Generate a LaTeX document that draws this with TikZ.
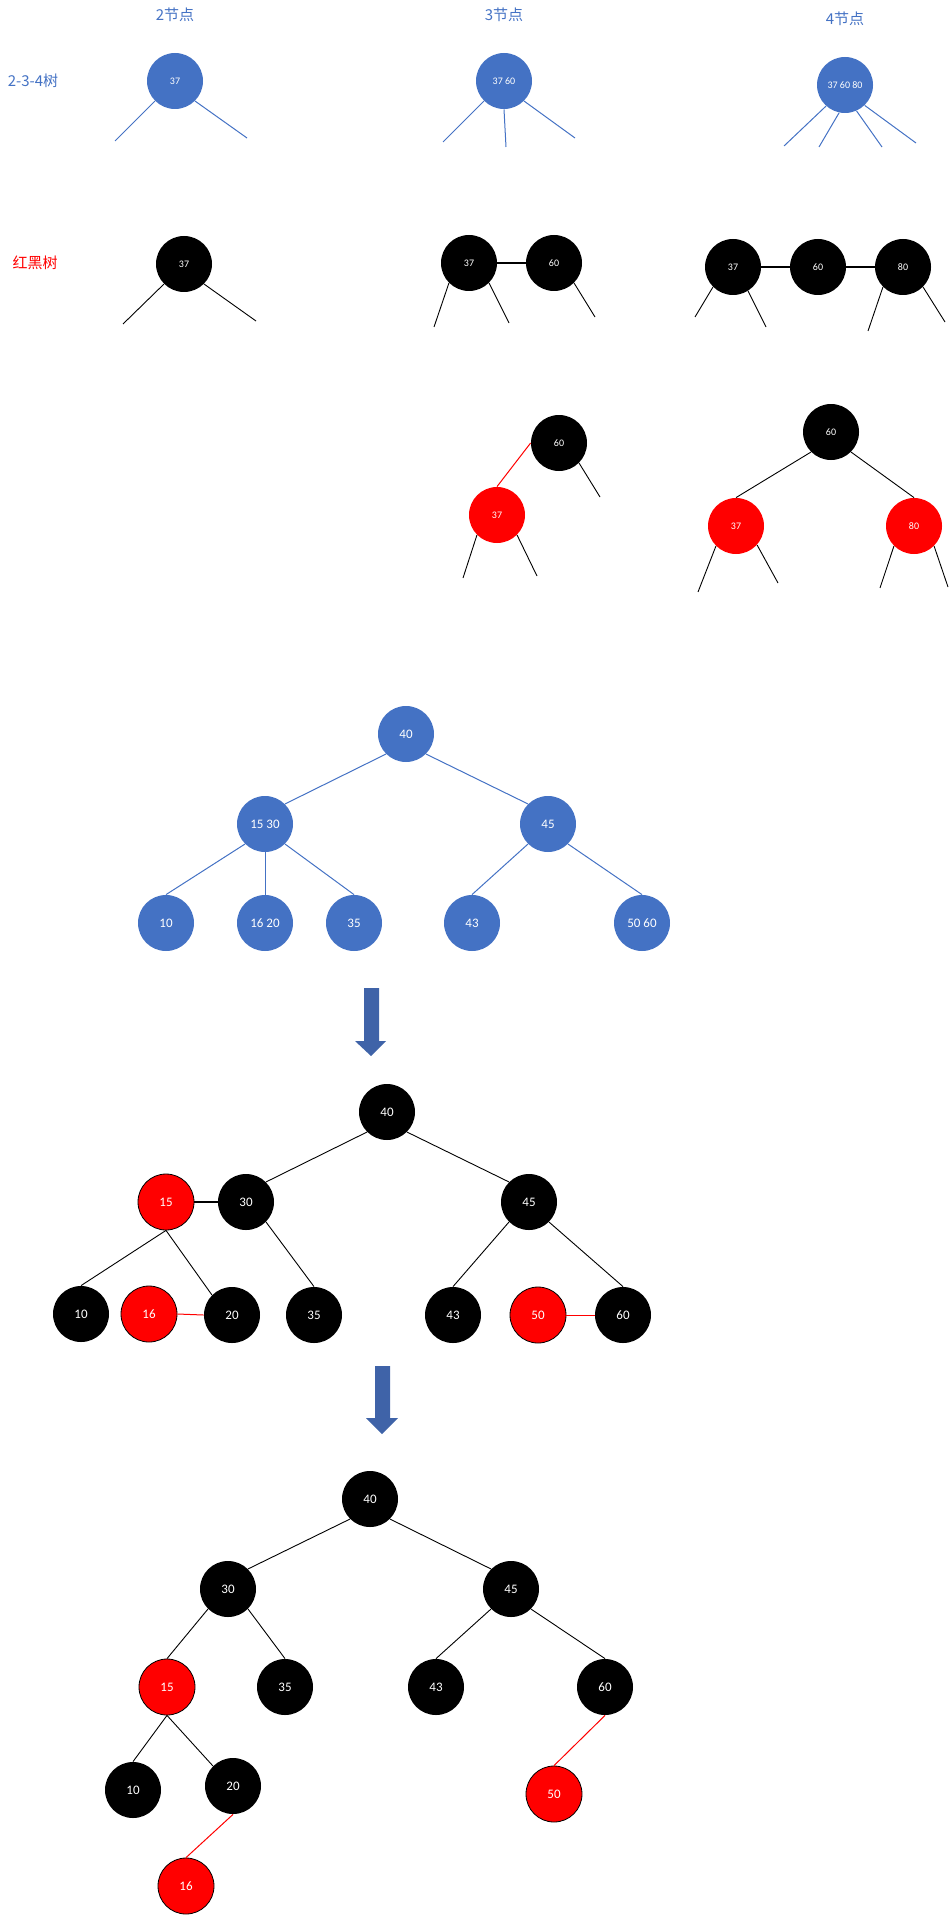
\documentclass[tikz,border=0pt]{standalone}
\usepackage{fontspec}
\setmainfont{Carlito}
\newfontfamily\cjk{Noto Sans CJK SC}
\definecolor{nblue}{RGB}{68,114,196}
\definecolor{arrowblue}{RGB}{63,99,168}
\tikzset{
  nd/.style={circle, minimum size=28pt, inner sep=0pt, text=white, font=\fontsize{5}{6}\selectfont},
  big/.style={font=\fontsize{6.5}{8}\selectfont},
  bnode/.style={nd, fill=nblue},
  knode/.style={nd, fill=black},
  rnode/.style={nd, fill=red},
  rnodeo/.style={nd, fill=red, draw=black, line width=0.4pt},
  eb/.style={draw=nblue, line width=0.5pt},
  ek/.style={draw=black, line width=0.45pt},
  ekk/.style={draw=black, line width=0.8pt},
  er/.style={draw=red, line width=0.5pt},
  lblue/.style={font=\cjk\fontsize{7.5}{9}\selectfont, text=nblue},
  lred/.style={font=\cjk\fontsize{7.5}{9}\selectfont, text=red},
  bigarrow/.style={fill=arrowblue}
}
\begin{document}
\begin{tikzpicture}[x=0.5pt, y=-0.5pt]
\useasboundingbox (0,0) rectangle (949,1915);

% ---------- labels ----------
\node[lblue] (h2) at (175,15) {2节点};
\node[lblue] (h3) at (504,15) {3节点};
\node[lblue] (h4) at (845,19) {4节点};
\node[lblue] (l234) at (33,81) {2-3-4树};
\node[lred] (lrb) at (35,263) {红黑树};

% ---------- 2-3-4 nodes (top row) ----------
\node[bnode] (b1) at (175,81) {37};
\node[bnode] (b2) at (504,81) {37 60};
\node[bnode] (b3) at (845,85) {37 60 80};
\draw[eb] (b1.225) -- (115,141);
\draw[eb] (b1.315) -- (247,138);
\draw[eb] (b2.225) -- (443,142);
\draw[eb] (b2.south) -- (506,147);
\draw[eb] (b2.315) -- (575,138);
\draw[eb] (b3.228) -- (784,146);
\draw[eb] (b3.258) -- (819,147);
\draw[eb] (b3.294) -- (882,147);
\draw[eb] (b3.314) -- (916,143);

% ---------- red-black row 2 ----------
\node[knode] (k1) at (184,264) {37};
\draw[ek] (k1.225) -- (123,324);
\draw[ek] (k1.315) -- (256,321);

\node[knode] (k2a) at (469,263) {37};
\node[knode] (k2b) at (554,263) {60};
\draw[ekk] (k2a.east) -- (k2b.west);
\draw[ek] (k2a.225) -- (434,327);
\draw[ek] (k2a.315) -- (509,323);
\draw[ek] (k2b.315) -- (595,317);

\node[knode] (k3a) at (733,267) {37};
\node[knode] (k3b) at (818,267) {60};
\node[knode] (k3c) at (903,267) {80};
\draw[ekk] (k3a.east) -- (k3b.west);
\draw[ekk] (k3b.east) -- (k3c.west);
\draw[ek] (k3a.225) -- (695,317);
\draw[ek] (k3a.302) -- (766,327);
\draw[ek] (k3c.225) -- (868,331);
\draw[ek] (k3c.315) -- (945,322);

% ---------- red-black row 3 ----------
\node[knode] (k4) at (559,443) {60};
\node[rnode] (r4) at (497,515) {37};
\draw[er] (k4.west) -- (r4.north);
\draw[ek] (k4.315) -- (600,497);
\draw[ek] (r4.225) -- (463,578);
\draw[ek] (r4.315) -- (537,576);

\node[knode] (k5) at (831,432) {60};
\node[rnode] (r5a) at (736,526) {37};
\node[rnode] (r5b) at (914,526) {80};
\draw[ek] (k5.225) -- (r5a.north);
\draw[ek] (k5.315) -- (r5b.north);
\draw[ek] (r5a.225) -- (698,592);
\draw[ek] (r5a.318) -- (778,583);
\draw[ek] (r5b.225) -- (880,588);
\draw[ek] (r5b.315) -- (948,587);

% ---------- 2-3-4 tree ----------
\node[bnode, big] (t40) at (406,734) {40};
\node[bnode, big] (t1530) at (265,824) {15 30};
\node[bnode, big] (t45) at (548,824) {45};
\node[bnode, big] (t10) at (166,923) {10};
\node[bnode, big] (t1620) at (265,923) {16 20};
\node[bnode, big] (t35) at (354,923) {35};
\node[bnode, big] (t43) at (472,923) {43};
\node[bnode, big] (t5060) at (642,923) {50 60};
\draw[eb] (t40.225) -- (t1530.45);
\draw[eb] (t40.315) -- (t45.135);
\draw[eb] (t1530.225) -- (t10.north);
\draw[eb] (t1530.south) -- (t1620.north);
\draw[eb] (t1530.315) -- (t35.north);
\draw[eb] (t45.225) -- (t43.north);
\draw[eb] (t45.315) -- (t5060.north);

% ---------- arrow 1 ----------
\fill[bigarrow] (364,988) -- (379,988) -- (379,1041) -- (386,1041) -- (371,1056) -- (355,1041) -- (364,1041) -- cycle;

% ---------- middle red-black tree ----------
\node[knode, big] (m40) at (387,1112) {40};
\node[rnodeo, big] (m15) at (166,1202) {15};
\node[knode, big] (m30) at (246,1202) {30};
\node[knode, big] (m45) at (529,1202) {45};
\node[knode, big] (m10) at (81,1314) {10};
\node[rnodeo, big] (m16) at (149,1314) {16};
\node[knode, big] (m20) at (232,1315) {20};
\node[knode, big] (m35) at (314,1315) {35};
\node[knode, big] (m43) at (453,1315) {43};
\node[rnodeo, big] (m50) at (538,1315) {50};
\node[knode, big] (m60) at (623,1315) {60};
\draw[ek] (m40.225) -- (m30.45);
\draw[ek] (m40.315) -- (m45.135);
\draw[ekk] (m15.east) -- (m30.west);
\draw[ek] (m15.south) -- (m10.north);
\draw[ek] (m15.south) -- (m20.135);
\draw[ek] (m30.315) -- (m35.north);
\draw[ek] (m45.225) -- (m43.north);
\draw[ek] (m45.315) -- (m60.north);
\draw[er] (m16.east) -- (m20.west);
\draw[er] (m50.east) -- (m60.west);

% ---------- arrow 2 ----------
\fill[bigarrow] (375,1366) -- (390,1366) -- (390,1418) -- (398,1418) -- (382,1434) -- (366,1418) -- (375,1418) -- cycle;

% ---------- bottom red-black tree ----------
\node[knode, big] (n40) at (370,1499) {40};
\node[knode, big] (n30) at (228,1589) {30};
\node[knode, big] (n45) at (511,1589) {45};
\node[rnodeo, big] (n15) at (167,1687) {15};
\node[knode, big] (n35) at (285,1687) {35};
\node[knode, big] (n43) at (436,1687) {43};
\node[knode, big] (n60) at (605,1687) {60};
\node[knode, big] (n10) at (133,1790) {10};
\node[knode, big] (n20) at (233,1786) {20};
\node[rnodeo, big] (n50) at (554,1794) {50};
\node[rnodeo, big] (n16) at (186,1886) {16};
\draw[ek] (n40.225) -- (n30.45);
\draw[ek] (n40.315) -- (n45.135);
\draw[ek] (n30.225) -- (n15.north);
\draw[ek] (n30.315) -- (n35.north);
\draw[ek] (n45.225) -- (n43.north);
\draw[ek] (n45.315) -- (n60.north);
\draw[ek] (n15.south) -- (n10.north);
\draw[ek] (n15.south) -- (n20.135);
\draw[er] (n20.south) -- (n16.north);
\draw[er] (n60.south) -- (n50.north);
\end{tikzpicture}
\end{document}
